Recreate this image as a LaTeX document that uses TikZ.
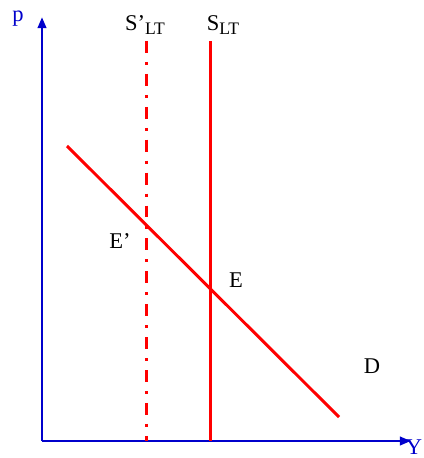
\documentclass[tikz,border=0pt]{standalone}
\usepackage{fontspec}
\setmainfont{Liberation Serif}
\usetikzlibrary{arrows.meta, positioning}
\definecolor{axisblue}{HTML}{0000CC}
\definecolor{curvered}{HTML}{FF0000}

\newcommand{\subLT}{\raisebox{-0.45ex}{\fontsize{12.5}{14}\selectfont LT}}

\begin{document}
\begin{tikzpicture}[x=0.025cm, y=-0.025cm,
    every node/.style={font=\fontsize{16}{18}\selectfont, inner sep=0pt},
    axis/.style={-{Triangle[length=8pt, width=6pt]}, line width=2.1pt, color=axisblue},
    curve/.style={line width=2.1pt, color=curvered},
    dashdot/.style={curve, dash pattern=on 8.5pt off 6.4pt on 2.1pt off 6.4pt},
    axlab/.style={text=axisblue},
]
\useasboundingbox (0,0) rectangle (423,458);

% axes
\coordinate (O) at (42,441);
\coordinate (ptip) at (42,17);
\coordinate (ytip) at (411,441);
\draw[axis] (O) -- (ptip);
\draw[axis] (O) -- (ytip);
\node[axlab] (plab) at (18,19) {p};
\node[axlab] (ylab) at (414,447) {Y};

% long-run supply, before and after
\coordinate (s1top) at (210.5,41);
\coordinate (s1bot) at (210.5,441);
\coordinate (s2top) at (146.5,41);
\coordinate (s2bot) at (146.5,441);
\draw[curve] (s1bot) -- (s1top);
\draw[dashdot] (s2top) -- (s2bot);
\node (slab) at (223,25) {S\subLT};
\node (s2lab) at (145,25) {S’\subLT};

% demand
\coordinate (d1) at (67,146);
\coordinate (d2) at (339,417);
\draw[curve] (d1) -- (d2);
\node (dlab) at (372,366) {D};

% equilibria
\node (elab) at (236,280) {E};
\node (e2lab) at (120,241) {E’};

\end{tikzpicture}
\end{document}
